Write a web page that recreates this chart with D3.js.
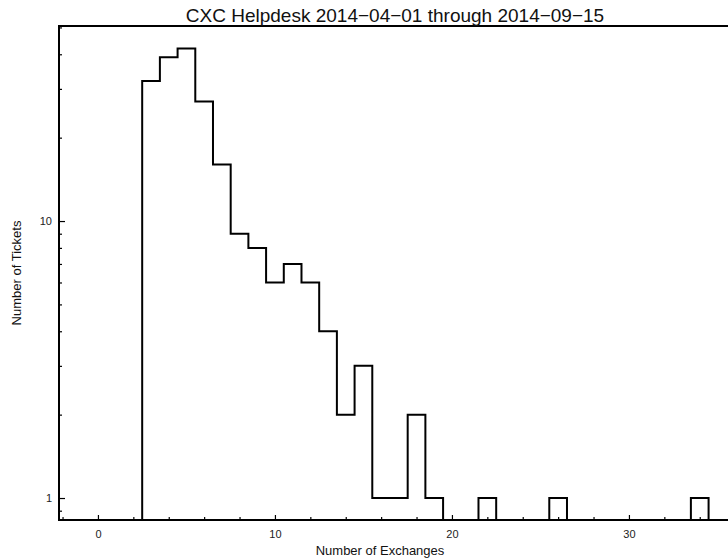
<!DOCTYPE html>
<html>
<head>
<meta charset="utf-8">
<script src="https://cdn.jsdelivr.net/npm/d3@7"></script>
<style>
  html, body { margin: 0; padding: 0; background: #fff; }
  svg { display: block; font-family: "Liberation Sans", Arial, sans-serif; }
</style>
</head>
<body>
<svg id="chart" width="728" height="560"></svg>
<script>
// Data: number of exchanges (bin centers) and ticket counts
const exchanges = [3,4,5,6,7,8,9,10,11,12,13,14,15,16,17,18,19,20,21,22,23,24,25,26,27,28,29,30,31,32,33,34,35,36];
const tickets   = [32,39,42,27,16,9,8,6,7,6,4,2,3,1,1,2,1,0,0,1,0,0,0,1,0,0,0,0,0,0,0,1,0,0];
const xMajorTicks = [0,10,20,30];
const xMinorTicks = [-2,2,4,6,8,12,14,16,18,22,24,26,28,32,34];
const yMajorTicks = [1,10];
const yMinorTicks = [0.9,2,3,4,5,6,7,8,9,20,30,40,50];
const titleText = "CXC Helpdesk 2014\u221204\u221201 through 2014\u221209\u221215";
const xTitle = "Number of Exchanges";
const yTitle = "Number of Tickets";

const svg = d3.select("#chart");
const L = 59, T = 26, B = 520, R = 730;

const x = d3.scaleLinear().domain([-2.2, 35.71]).range([L, R]);
const y = d3.scaleLog().domain([0.833, 50.6]).range([B, T]);

svg.append("defs").append("clipPath").attr("id", "clip")
  .append("rect").attr("x", L).attr("y", T).attr("width", R - L).attr("height", B - T);

// histogram step path
const yv = v => v > 0 ? y(v) : B + 2;
const pts = [[x(exchanges[0] - 0.5), B + 2]];
exchanges.forEach((c, i) => {
  pts.push([x(c - 0.5), yv(tickets[i])]);
  pts.push([x(c + 0.5), yv(tickets[i])]);
});
svg.append("path")
  .attr("clip-path", "url(#clip)")
  .attr("d", d3.line()(pts))
  .attr("fill", "none")
  .attr("stroke", "#000")
  .attr("stroke-width", 2)
  .attr("stroke-linejoin", "miter");

// frame
svg.append("path")
  .attr("d", `M${R},${T}H${L}V${B}H${R}`)
  .attr("fill", "none").attr("stroke", "#000").attr("stroke-width", 2);

// x axis ticks (inward)
const xAxisMajor = d3.axisBottom(x).tickValues(xMajorTicks).tickSize(-5).tickPadding(10).tickFormat(d3.format("d"));
const gx = svg.append("g").attr("transform", `translate(0,${B})`).call(xAxisMajor);
gx.select(".domain").remove();
gx.selectAll("line").attr("stroke-width", 1.2);
gx.selectAll("text").attr("font-size", 11).attr("fill", "#222")
  .attr("font-family", "'Liberation Sans', Arial, sans-serif");
const gxm = svg.append("g").attr("transform", `translate(0,${B})`)
  .call(d3.axisBottom(x).tickValues(xMinorTicks).tickSize(-3).tickFormat(""));
gxm.select(".domain").remove();
gxm.selectAll("line").attr("stroke-width", 1.2);

// y axis ticks (inward)
const gy = svg.append("g").attr("transform", `translate(${L},0)`)
  .call(d3.axisLeft(y).tickValues(yMajorTicks).tickSize(-6).tickPadding(7).tickFormat(d3.format("d")));
gy.select(".domain").remove();
gy.selectAll("line").attr("stroke-width", 1.2);
gy.selectAll("text").attr("font-size", 11).attr("fill", "#222")
  .attr("font-family", "'Liberation Sans', Arial, sans-serif");
const gym = svg.append("g").attr("transform", `translate(${L},0)`)
  .call(d3.axisLeft(y).tickValues(yMinorTicks).tickSize(-3).tickFormat(""));
gym.select(".domain").remove();
gym.selectAll("line").attr("stroke-width", 1.2);

// titles
svg.append("text").attr("x", 395).attr("y", 22).attr("text-anchor", "middle")
  .attr("font-size", 19).attr("fill", "#111").text(titleText);
svg.append("text").attr("x", 380).attr("y", 555).attr("text-anchor", "middle")
  .attr("font-size", 13).attr("fill", "#111").text(xTitle);
svg.append("text").attr("transform", `translate(21,273) rotate(-90)`).attr("text-anchor", "middle")
  .attr("font-size", 13).attr("fill", "#111").text(yTitle);
</script>
</body>
</html>
